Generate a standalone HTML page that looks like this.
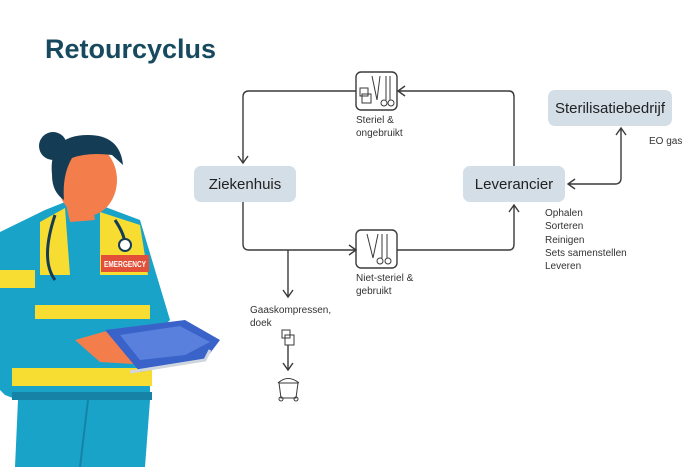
<!DOCTYPE html>
<html><head><style>
body{margin:0;width:700px;height:467px;background:#fff;overflow:hidden;font-family:"Liberation Sans",sans-serif;position:relative}
.t{position:absolute;left:45px;top:34px;font-size:27px;font-weight:bold;color:#174a5f}
.b{position:absolute;background:#d3dee7;border-radius:7px;display:flex;align-items:center;justify-content:center;font-size:15px;color:#222}
.s{position:absolute;font-size:10px;color:#333;line-height:13.3px}
</style></head><body>
<div class="t">Retourcyclus</div>
<div class="b" style="left:194px;top:166px;width:102px;height:36px">Ziekenhuis</div>
<div class="b" style="left:463px;top:166px;width:102px;height:36px">Leverancier</div>
<div class="b" style="left:548px;top:90px;width:124px;height:36px">Sterilisatiebedrijf</div>
<div class="s" style="left:356px;top:114px">Steriel &amp;<br>ongebruikt</div>
<div class="s" style="left:356px;top:272px">Niet-steriel &amp;<br>gebruikt</div>
<div class="s" style="left:545px;top:207px">Ophalen<br>Sorteren<br>Reinigen<br>Sets samenstellen<br>Leveren</div>
<div class="s" style="left:649px;top:135px">EO gas</div>
<div class="s" style="left:250px;top:304px">Gaaskompressen,<br>doek</div>
<svg width="700" height="467" style="position:absolute;left:0;top:0" fill="none" stroke="#3a3a3a" stroke-width="1.4">
<path d="M356 91H249Q243 91 243 97V163M238 156L243 163L248 156"/>
<path d="M397 91H509Q514 91 514 97V166M405 86L398 91L405 96"/>
<path d="M243 202V244Q243 250 249 250H356M349 245L356 250L349 255"/>
<path d="M397 250H509Q514 250 514 244V205M509 212L514 205L519 212"/>
<path d="M288 250V297M283 290L288 297L293 290"/>
<path d="M568 184H615Q621 184 621 178V128M616 135L621 128L626 135M575 179L568 184L575 189"/>
<path d="M288 345V370M283 363L288 370L293 363"/>
<rect x="356" y="72" width="41" height="38" rx="5"/>
<rect x="356" y="230" width="41" height="38" rx="5"/>
<g stroke-width="1">
<rect x="360" y="88" width="8" height="8"/><rect x="362" y="94" width="9" height="9"/>
<path d="M372 76L377 100M380 76L377 100M386 76V100M390 76V100"/>
<circle cx="384" cy="103" r="3"/><circle cx="391" cy="103" r="3"/>
<path d="M367 234L373 258M378 234L373 258M382 234V258M387 234V258"/>
<circle cx="380" cy="261" r="3"/><circle cx="388" cy="261" r="3"/>
<rect x="282" y="330" width="8" height="8"/><rect x="285" y="335" width="9" height="10"/>
<path d="M279 383H298L296 398H281Z"/><path d="M278 383Q288 374 299 383"/>
<circle cx="281" cy="399" r="2"/><circle cx="296" cy="399" r="2"/>
</g>
</svg>
<svg width="240" height="467" style="position:absolute;left:0;top:0">
<path d="M0 232L45 210L65 202L100 205L140 220L155 270L170 320L150 340L150 400L145 467H15L18 400L5 395L0 390Z" fill="#1aa3c8"/>
<path d="M40 222L65 208L70 275L40 275Z M100 212L140 225L148 275L100 275Z" fill="#f7dc32"/>
<rect x="0" y="270" width="35" height="18" fill="#f7dc32"/>
<rect x="35" y="305" width="115" height="14" fill="#f7dc32"/>
<rect x="12" y="368" width="140" height="18" fill="#f7dc32"/>
<rect x="12" y="392" width="140" height="8" fill="#1682a6"/>
<path d="M80 467L88 400" stroke="#1682a6" stroke-width="2"/>
<path d="M65 200L92 198L95 220L70 222Z" fill="#f47d4c"/>
<ellipse cx="87" cy="180" rx="30" ry="36" fill="#f47d4c"/>
<path d="M52 175Q48 135 88 135Q120 135 123 165L112 155Q88 152 72 158Q62 175 64 200Q52 192 52 175Z" fill="#143d55"/>
<circle cx="53" cy="146" r="14" fill="#143d55"/>
<rect x="101" y="255" width="48" height="17" fill="#e3503a"/>
<text x="104" y="267" font-size="8" fill="#fff" font-family="Liberation Sans" font-weight="bold" textLength="42" lengthAdjust="spacingAndGlyphs">EMERGENCY</text>
<path d="M55 215Q40 260 55 280M115 220Q125 235 125 245" stroke="#143d55" stroke-width="3" fill="none"/>
<circle cx="125" cy="245" r="6" fill="#fff" stroke="#143d55" stroke-width="2"/>
<path d="M75 340L110 330L170 335L150 365L100 362Z" fill="#f47d4c"/>
<path d="M105 330L185 320L220 340L205 360L140 372Z" fill="#3a63c9"/>
<path d="M120 335L180 326L210 342L185 355L140 360Z" fill="#5a80de"/>
<path d="M130 372L205 360L210 350" stroke="#cfd6de" stroke-width="3" fill="none"/>
</svg>
</body></html>
